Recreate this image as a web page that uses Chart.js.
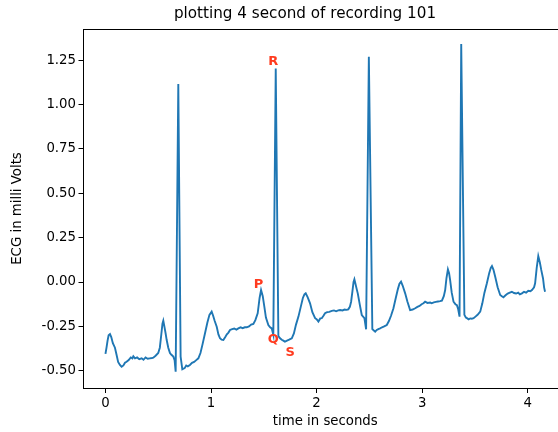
<!DOCTYPE html>
<html>
<head>
<meta charset="utf-8">
<script src="https://cdn.jsdelivr.net/npm/chart.js@4"></script>
<style>
  html, body { margin: 0; padding: 0; overflow: hidden; background: #fff; }
  canvas { display: block; }
</style>
</head>
<body>
<canvas id="ecg" width="610" height="432"></canvas>
<script>
// trace (seconds, mV)
const timeSec = [
  0.000, 0.010, 0.020, 0.030, 0.043, 0.055, 0.070, 0.090, 0.105, 0.120,
  0.137, 0.153, 0.170, 0.185, 0.200, 0.220, 0.240, 0.255, 0.264, 0.280,
  0.300, 0.320, 0.343, 0.360, 0.380, 0.400, 0.420, 0.440, 0.453, 0.475,
  0.500, 0.515, 0.530, 0.540, 0.548, 0.558, 0.570, 0.580, 0.595, 0.611,
  0.625, 0.643, 0.655, 0.665, 0.690, 0.712, 0.728,
  0.750, 0.765, 0.780, 0.800, 0.820, 0.840, 0.860, 0.880,
  0.900, 0.920, 0.943, 0.965, 0.985, 1.006, 1.020, 1.035, 1.054, 1.070,
  1.085, 1.100, 1.117, 1.135, 1.150, 1.165, 1.180, 1.200, 1.220, 1.240,
  1.259, 1.280, 1.300, 1.320, 1.338, 1.360, 1.380, 1.401, 1.420, 1.442,
  1.460, 1.474, 1.490, 1.505, 1.520, 1.543, 1.560, 1.575, 1.590, 1.613,
  1.638, 1.654, 1.670, 1.685, 1.700,
  1.720, 1.740, 1.765, 1.785, 1.805, 1.828, 1.850, 1.870, 1.885, 1.897,
  1.915, 1.938, 1.960, 1.986, 2.000, 2.017, 2.035, 2.049, 2.065, 2.080,
  2.100, 2.120, 2.144, 2.165, 2.185, 2.205, 2.223, 2.245, 2.265, 2.285,
  2.300, 2.315, 2.327, 2.340, 2.350, 2.358, 2.368, 2.380, 2.390, 2.410,
  2.428, 2.453, 2.469, 2.495, 2.528,
  2.540, 2.555, 2.570, 2.585, 2.602, 2.620, 2.640, 2.665, 2.685, 2.705,
  2.728, 2.750, 2.770, 2.785, 2.800, 2.815, 2.839, 2.860, 2.886, 2.910,
  2.934, 2.955, 2.975, 2.995, 3.012, 3.028, 3.050, 3.076, 3.090, 3.110,
  3.130, 3.150, 3.170, 3.187, 3.205, 3.218, 3.230, 3.244, 3.255, 3.265,
  3.280, 3.297, 3.315, 3.329, 3.340, 3.354, 3.370, 3.400,
  3.414, 3.428, 3.440, 3.455, 3.470, 3.487, 3.505,
  3.525, 3.550, 3.570, 3.590, 3.613, 3.635, 3.650, 3.661, 3.675, 3.692,
  3.715, 3.739, 3.755, 3.770, 3.790, 3.810, 3.830, 3.850, 3.870, 3.890,
  3.910, 3.925, 3.945, 3.965, 3.985, 4.005, 4.025, 4.040, 4.060, 4.070,
  4.085, 4.100, 4.115, 4.128, 4.145, 4.155, 4.164
];
const milliVolts = [
  -0.405, -0.370, -0.330, -0.300, -0.293, -0.310, -0.345, -0.370, -0.410, -0.450,
  -0.467, -0.477, -0.470, -0.455, -0.449, -0.440, -0.425, -0.430, -0.418, -0.430,
  -0.425, -0.435, -0.430, -0.438, -0.425, -0.432, -0.430, -0.428, -0.426, -0.415,
  -0.400, -0.370, -0.290, -0.235, -0.218, -0.250, -0.290, -0.327, -0.370, -0.400,
  -0.410, -0.420, -0.440, -0.505, 1.115, -0.420, -0.492,
  -0.485, -0.470, -0.475, -0.467, -0.455, -0.450, -0.440, -0.430,
  -0.400, -0.350, -0.289, -0.230, -0.185, -0.167, -0.190, -0.220, -0.252, -0.295,
  -0.317, -0.325, -0.327, -0.310, -0.295, -0.285, -0.270, -0.265, -0.262, -0.268,
  -0.261, -0.255, -0.260, -0.255, -0.255, -0.250, -0.240, -0.236, -0.215, -0.176,
  -0.090, -0.045, -0.080, -0.139, -0.200, -0.242, -0.255, -0.261, -0.298, 1.203,
  -0.305, -0.317, -0.325, -0.330, -0.336,
  -0.330, -0.325, -0.317, -0.290, -0.240, -0.195, -0.140, -0.090, -0.070, -0.064,
  -0.085, -0.120, -0.170, -0.204, -0.210, -0.223, -0.205, -0.204, -0.190, -0.176,
  -0.170, -0.168, -0.163, -0.160, -0.165, -0.160, -0.158, -0.160, -0.155, -0.157,
  -0.154, -0.140, -0.111, -0.050, 0.000, 0.015, -0.010, -0.040, -0.064, -0.130,
  -0.186, -0.204, -0.266, 1.269, -0.265,
  -0.272, -0.280, -0.270, -0.265, -0.261, -0.255, -0.250, -0.242, -0.220, -0.190,
  -0.148, -0.090, -0.040, -0.010, 0.002, -0.020, -0.064, -0.110, -0.158, -0.155,
  -0.148, -0.140, -0.135, -0.125, -0.120, -0.111, -0.118, -0.116, -0.120, -0.115,
  -0.112, -0.110, -0.108, -0.105, -0.080, -0.045, 0.020, 0.071, 0.050, 0.011,
  -0.060, -0.111, -0.125, -0.130, -0.150, -0.195, 1.340, -0.185,
  -0.200, -0.205, -0.210, -0.205, -0.207, -0.204, -0.195,
  -0.185, -0.167, -0.120, -0.060, -0.007, 0.050, 0.080, 0.090, 0.070, 0.030,
  -0.030, -0.073, -0.080, -0.086, -0.075, -0.065, -0.060, -0.055, -0.062, -0.065,
  -0.060, -0.070, -0.064, -0.055, -0.060, -0.050, -0.052, -0.045, -0.030, -0.007,
  0.080, 0.146, 0.110, 0.068, 0.020, -0.030, -0.055
];

const xTicks = [0, 1, 2, 3, 4];
const yTicks = [-0.5, -0.25, 0, 0.25, 0.5, 0.75, 1.0, 1.25];

// wave markers
const waveLabels = ['P', 'Q', 'R', 'S'];
const waveLabelX = [1.449, 1.590, 1.590, 1.749];
const waveLabelY = [-0.017, -0.327, 1.240, -0.400];

const chartTitle = 'plotting 4 second of recording 101';
const font = '"DejaVu Sans", sans-serif';
const labelSize = 13.3;

const extras = {
  id: 'extras',
  afterDatasetsDraw(chart) {
    const { ctx, chartArea: a, scales: { x, y } } = chart;
    ctx.save();
    // top spine
    ctx.strokeStyle = '#000';
    ctx.lineWidth = 1;
    ctx.beginPath();
    ctx.moveTo(a.left, Math.round(a.top) + 0.5);
    ctx.lineTo(a.right, Math.round(a.top) + 0.5);
    ctx.stroke();
    // P Q R S
    ctx.fillStyle = '#ff3b1f';
    ctx.font = 'bold 13px ' + font;
    ctx.textAlign = 'center';
    ctx.textBaseline = 'middle';
    waveLabels.forEach((t, i) => {
      ctx.fillText(t, x.getPixelForValue(waveLabelX[i]), y.getPixelForValue(waveLabelY[i]));
    });
    // title
    ctx.fillStyle = '#000';
    ctx.font = '15.2px ' + font;
    ctx.fillText(chartTitle, 305, 14.5);
    ctx.restore();
  }
};

new Chart(document.getElementById('ecg').getContext('2d'), {
  type: 'line',
  data: {
    datasets: [{
      data: timeSec.map((t, i) => ({ x: t, y: milliVolts[i] })),
      borderColor: '#1f77b4',
      borderWidth: 1.9,
      pointRadius: 0,
      tension: 0,
      fill: false
    }]
  },
  options: {
    responsive: false,
    animation: false,
    layout: { padding: { top: 29, right: 43, left: 0, bottom: 0 } },
    plugins: {
      legend: { display: false },
      tooltip: { enabled: false },
      title: { display: false }
    },
    scales: {
      x: {
        type: 'linear',
        min: -0.208,
        max: 4.372,
        afterBuildTicks: s => { s.ticks = xTicks.map(v => ({ value: v })); },
        afterFit: s => { s.height = 44; },
        ticks: {
          color: '#000',
          padding: 3,
          font: { family: font, size: labelSize },
          callback: v => String(v)
        },
        grid: { drawOnChartArea: false, drawTicks: true, tickLength: 5, tickColor: '#000' },
        border: { display: true, color: '#000', width: 1 },
        title: {
          display: true,
          text: 'time in seconds',
          color: '#000',
          font: { family: font, size: labelSize },
          padding: { top: 0, bottom: 2 }
        }
      },
      y: {
        type: 'linear',
        min: -0.597,
        max: 1.425,
        afterBuildTicks: s => { s.ticks = yTicks.map(v => ({ value: v })); },
        afterFit: s => { s.width = 83.5; },
        ticks: {
          color: '#000',
          padding: 2.5,
          font: { family: font, size: labelSize },
          callback: v => v.toFixed(2)
        },
        grid: { drawOnChartArea: false, drawTicks: true, tickLength: 5, tickColor: '#000' },
        border: { display: true, color: '#000', width: 1 },
        title: {
          display: true,
          text: 'ECG in milli Volts',
          color: '#000',
          font: { family: font, size: labelSize },
          padding: { top: 10, bottom: 0 }
        }
      }
    }
  },
  plugins: [extras]
});
</script>
</body>
</html>
